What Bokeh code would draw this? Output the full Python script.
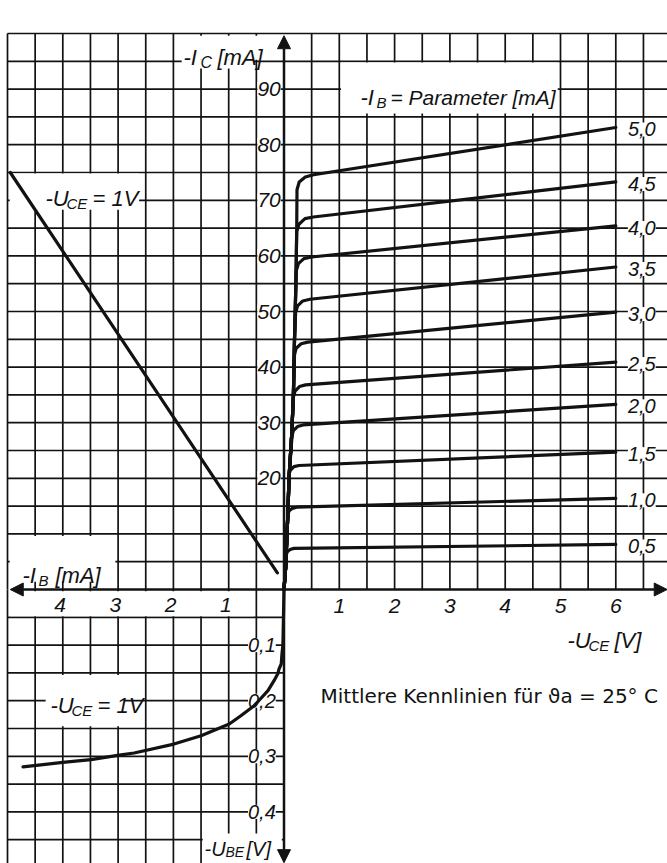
import numpy as np
from bokeh.plotting import figure
from bokeh.models import Range1d, Label, Arrow, NormalHead
from bokeh.embed import file_html
from bokeh.resources import INLINE

# ---------------------------------------------------------------------------
# Data: mean characteristics of a PNP transistor at 25 °C
# ---------------------------------------------------------------------------

# Output characteristics -I_C = f(-U_CE), parameter -I_B [mA]
ib_param = [0.5, 1.0, 1.5, 2.0, 2.5, 3.0, 3.5, 4.0, 4.5, 5.0]
ib_param_labels = ["0,5", "1,0", "1,5", "2,0", "2,5", "3,0", "3,5", "4,0", "4,5", "5,0"]

uce_ib05 = [0.0, 0.03, 0.04, 0.06, 0.11, 0.18, 6.0]
ic_ib05 = [0.0, 4.0, 6.2, 6.8, 7.2, 7.4, 8.1]

uce_ib10 = [0.0, 0.03, 0.055, 0.07, 0.09, 0.15, 0.23, 6.0]
ic_ib10 = [0.0, 4.0, 10.0, 13.3, 14.1, 14.6, 14.8, 16.4]

uce_ib15 = [0.0, 0.03, 0.055, 0.075, 0.09, 0.11, 0.18, 0.27, 6.0]
ic_ib15 = [0.0, 4.0, 10.0, 15.0, 20.5, 21.4, 22.1, 22.3, 24.7]

uce_ib20 = [0.0, 0.03, 0.055, 0.075, 0.09, 0.145, 0.17, 0.245, 0.345, 6.0]
ic_ib20 = [0.0, 4.0, 10.0, 15.0, 20.0, 27.6, 28.6, 29.3, 29.6, 33.3]

uce_ib25 = [0.0, 0.03, 0.055, 0.075, 0.09, 0.14, 0.17, 0.20, 0.28, 0.39, 6.0]
ic_ib25 = [0.0, 4.0, 10.0, 15.0, 20.0, 28.0, 34.6, 35.7, 36.5, 36.8, 40.9]

uce_ib30 = [0.0, 0.03, 0.055, 0.075, 0.09, 0.14, 0.17, 0.19, 0.22, 0.31, 0.43, 6.0]
ic_ib30 = [0.0, 4.0, 10.0, 15.0, 20.0, 28.0, 35.0, 42.2, 43.4, 44.2, 44.5, 49.9]

uce_ib35 = [0.0, 0.03, 0.055, 0.075, 0.09, 0.14, 0.17, 0.19, 0.21, 0.245, 0.34, 0.47, 6.0]
ic_ib35 = [0.0, 4.0, 10.0, 15.0, 20.0, 28.0, 35.0, 45.0, 49.8, 51.0, 51.9, 52.2, 58.0]

uce_ib40 = [0.0, 0.03, 0.055, 0.075, 0.09, 0.14, 0.17, 0.19, 0.215, 0.22, 0.26, 0.36, 0.50, 6.0]
ic_ib40 = [0.0, 4.0, 10.0, 15.0, 20.0, 28.0, 35.0, 45.0, 55.0, 57.3, 58.6, 59.5, 59.8, 65.4]

uce_ib45 = [0.0, 0.03, 0.055, 0.075, 0.09, 0.14, 0.17, 0.19, 0.215, 0.23, 0.27, 0.38, 0.53, 6.0]
ic_ib45 = [0.0, 4.0, 10.0, 15.0, 20.0, 28.0, 35.0, 45.0, 55.0, 64.4, 65.7, 66.7, 67.0, 73.3]

uce_ib50 = [0.0, 0.03, 0.055, 0.075, 0.09, 0.14, 0.17, 0.19, 0.215, 0.23, 0.235, 0.275, 0.385, 0.535, 6.0]
ic_ib50 = [0.0, 4.0, 10.0, 15.0, 20.0, 28.0, 35.0, 45.0, 55.0, 65.0, 71.9, 73.3, 74.2, 74.6, 83.1]

# Current transfer -I_C = f(-I_B) at -U_CE = 1 V
ib_transfer = [4.95, 0.12]
ic_transfer = [75.0, 3.0]

# Input characteristic -I_B = f(-U_BE) at -U_CE = 1 V
ib_input = [4.72, 4.0, 3.49, 2.98, 2.71, 1.99, 1.50, 0.99, 0.78, 0.54, 0.42,
            0.29, 0.18, 0.11, 0.09, 0.05, 0.036, 0.02, 0.0]
ube_input = [0.319, 0.311, 0.306, 0.298, 0.294, 0.278, 0.263, 0.242, 0.227, 0.209, 0.196,
             0.182, 0.164, 0.151, 0.143, 0.134, 0.115, 0.10, 0.0]

# Scale labels
ic_ticks = [20, 30, 40, 50, 60, 70, 80, 90]
uce_ticks = [1, 2, 3, 4, 5, 6]
ib_ticks = [1, 2, 3, 4]
ube_ticks = [0.1, 0.2, 0.3, 0.4]
ube_tick_labels = ["0,1", "0,2", "0,3", "0,4"]

# ---------------------------------------------------------------------------
# Layout: one plane for all quadrants.
#   x > 0 : -U_CE [V]        x < 0 : -(-I_B) [mA]
#   y > 0 : -I_C [mA]        y < 0 : -(-U_BE) * 100  (0.1 V per 10 units)
# ---------------------------------------------------------------------------
W, H = 667, 863
PX_X, PX_Y = 55.3, 5.56          # pixels per unit
X0 = -5 - 7 / PX_X
X1 = X0 + W / PX_X
Y1 = 100 + 33 / PX_Y
Y0 = Y1 - H / PX_Y
UBE_SCALE = 100.0

INK = "#121212"
NUM_FONT = "Liberation Sans"
CAP_FONT = "DejaVu Sans"


def at(px, py):
    """Canvas pixel position -> plot coordinates (for text placement)."""
    return X0 + px / PX_X, Y1 - py / PX_Y


p = figure(width=W, height=H, x_range=Range1d(X0, X1), y_range=Range1d(Y0, Y1),
           toolbar_location=None, output_backend="svg",
           x_axis_location=None, y_axis_location=None,
           min_border=0, min_border_left=0, min_border_right=0,
           min_border_top=0, min_border_bottom=0,
           outline_line_color=None, background_fill_color="white",
           border_fill_color="white")
p.grid.visible = False

# --- grid, 0.5 V / 0.5 mA / 5 mA / 0.05 V per cell ---------------------------
grid_kw = dict(line_color=INK, line_width=1.7, level="image")
h_top = np.arange(5, 100.1, 5)
v_top = [v for v in np.arange(-5, 6.51, 0.5) if abs(v) > 1e-9]
h_bot = np.arange(-5, -49.9, -5)
v_bot = np.arange(-5, -0.49, 0.5)
p.segment(x0=-5, y0=h_top, x1=X1, y1=h_top, **grid_kw)
p.segment(x0=v_top, y0=0, x1=v_top, y1=100, **grid_kw)
p.segment(x0=-5, y0=h_bot, x1=0, y1=h_bot, **grid_kw)
p.segment(x0=v_bot, y0=Y0, x1=v_bot, y1=0, **grid_kw)

# white panels behind the titles, cut out of the grid
panels_l = [-1.85, -1.85, 1.03, -4.96, -4.96, -4.96, -4.31, -1.47]
panels_r = [-0.42, -0.55, 4.95, -2.62, -3.05, -0.55, -2.88, -0.04]
panels_b = [95.3, 93.7, 85.6, 68.3, 1.4, -4.8, -24.6, Y0]
panels_t = [99.6, 95.3, 94.8, 74.8, 9.6, -0.3, -15.4, -43.9]
p.quad(left=panels_l, right=panels_r, bottom=panels_b, top=panels_t,
       fill_color="white", line_color=None, level="image")

# --- curves ---------------------------------------------------------------
curve_kw = dict(line_color=INK, line_width=3.2, line_join="round", line_cap="round")
out_u = [uce_ib05, uce_ib10, uce_ib15, uce_ib20, uce_ib25,
         uce_ib30, uce_ib35, uce_ib40, uce_ib45, uce_ib50]
out_i = [ic_ib05, ic_ib10, ic_ib15, ic_ib20, ic_ib25,
         ic_ib30, ic_ib35, ic_ib40, ic_ib45, ic_ib50]
p.multi_line(xs=out_u, ys=out_i, **curve_kw)

p.line(x=[-v for v in ib_transfer], y=ic_transfer, **curve_kw)
p.line(x=[-v for v in ib_input], y=[-UBE_SCALE * v for v in ube_input], **curve_kw)

# --- axes with arrow heads --------------------------------------------------
axis_kw = dict(line_color=INK, line_width=2.5)
for xe, ye in [(X1 - 0.005, 0), (-4.95, 0), (0, 99.6), (0, Y0 + 0.15)]:
    p.add_layout(Arrow(end=NormalHead(size=13, fill_color=INK, line_color=INK, line_width=1),
                       x_start=0, y_start=0, x_end=xe, y_end=ye, **axis_kw))


# --- texts -----------------------------------------------------------------
def txt(x, y, s, size=21, align="left", baseline="alphabetic", bg=None,
        font=NUM_FONT, style="italic", xo=0, yo=0):
    lab = Label(x=x, y=y, text=s, text_font=font, text_font_size=f"{size}px",
                text_font_style=style, text_align=align, text_baseline=baseline,
                text_color=INK, x_offset=xo, y_offset=yo, level="underlay")
    if bg is not None:
        lab.background_fill_color = bg
    p.add_layout(lab)


def symbol(px, py, parts):
    x, y = at(px, py)
    for s, dx, dy, size in parts:
        txt(x, y, s, size=size, xo=dx, yo=dy)


for v in ic_ticks:
    txt(-0.27, v, str(v), size=21, align="center", baseline="middle", bg="white")
for v in uce_ticks:
    txt(v, -3.0, str(v), size=21, align="center", baseline="middle")
for v in ib_ticks:
    txt(-v - 0.05, -2.7, str(v), size=21, align="center", baseline="middle")
for v, s in zip(ube_ticks, ube_tick_labels):
    txt(-0.4, -UBE_SCALE * v, s, size=20, align="center", baseline="middle", bg="white")
for ends, s in zip(out_i, ib_param_labels):
    txt(6.47, ends[-1], s, size=20, align="center", baseline="middle", bg="white", yo=-2)

symbol(183, 57, [("-I", 0, 0, 22), ("C", 17, -5, 16), ("[mA]", 34, 0, 22)])
symbol(360, 97, [("-I", 0, 0, 22), ("B", 16, -5, 15), ("= Parameter [mA]", 30, 0, 21)])
symbol(45, 198, [("-U", 0, 0, 22), ("CE", 21, -5, 15), ("= 1V", 47, 0, 22)])
symbol(50, 705, [("-U", 0, 0, 22), ("CE", 21, -5, 15), ("= 1V", 47, 0, 22)])
symbol(22, 575, [("-I", 0, 0, 22), ("B", 16, -5, 15), ("[mA]", 33, 0, 22)])
symbol(204, 848, [("-U", 0, 0, 20), ("BE", 21, -3, 14), ("[V]", 42, 0, 20)])
symbol(567, 640, [("-U", 0, 0, 22), ("CE", 21, -5, 15), ("[V]", 47, 0, 22)])

cx, cy = at(320, 695)
txt(cx, cy, "Mittlere Kennlinien für  ϑa = 25° C", size=20, font=CAP_FONT, style="normal")

open("out.html", "w").write(file_html(p, INLINE))
